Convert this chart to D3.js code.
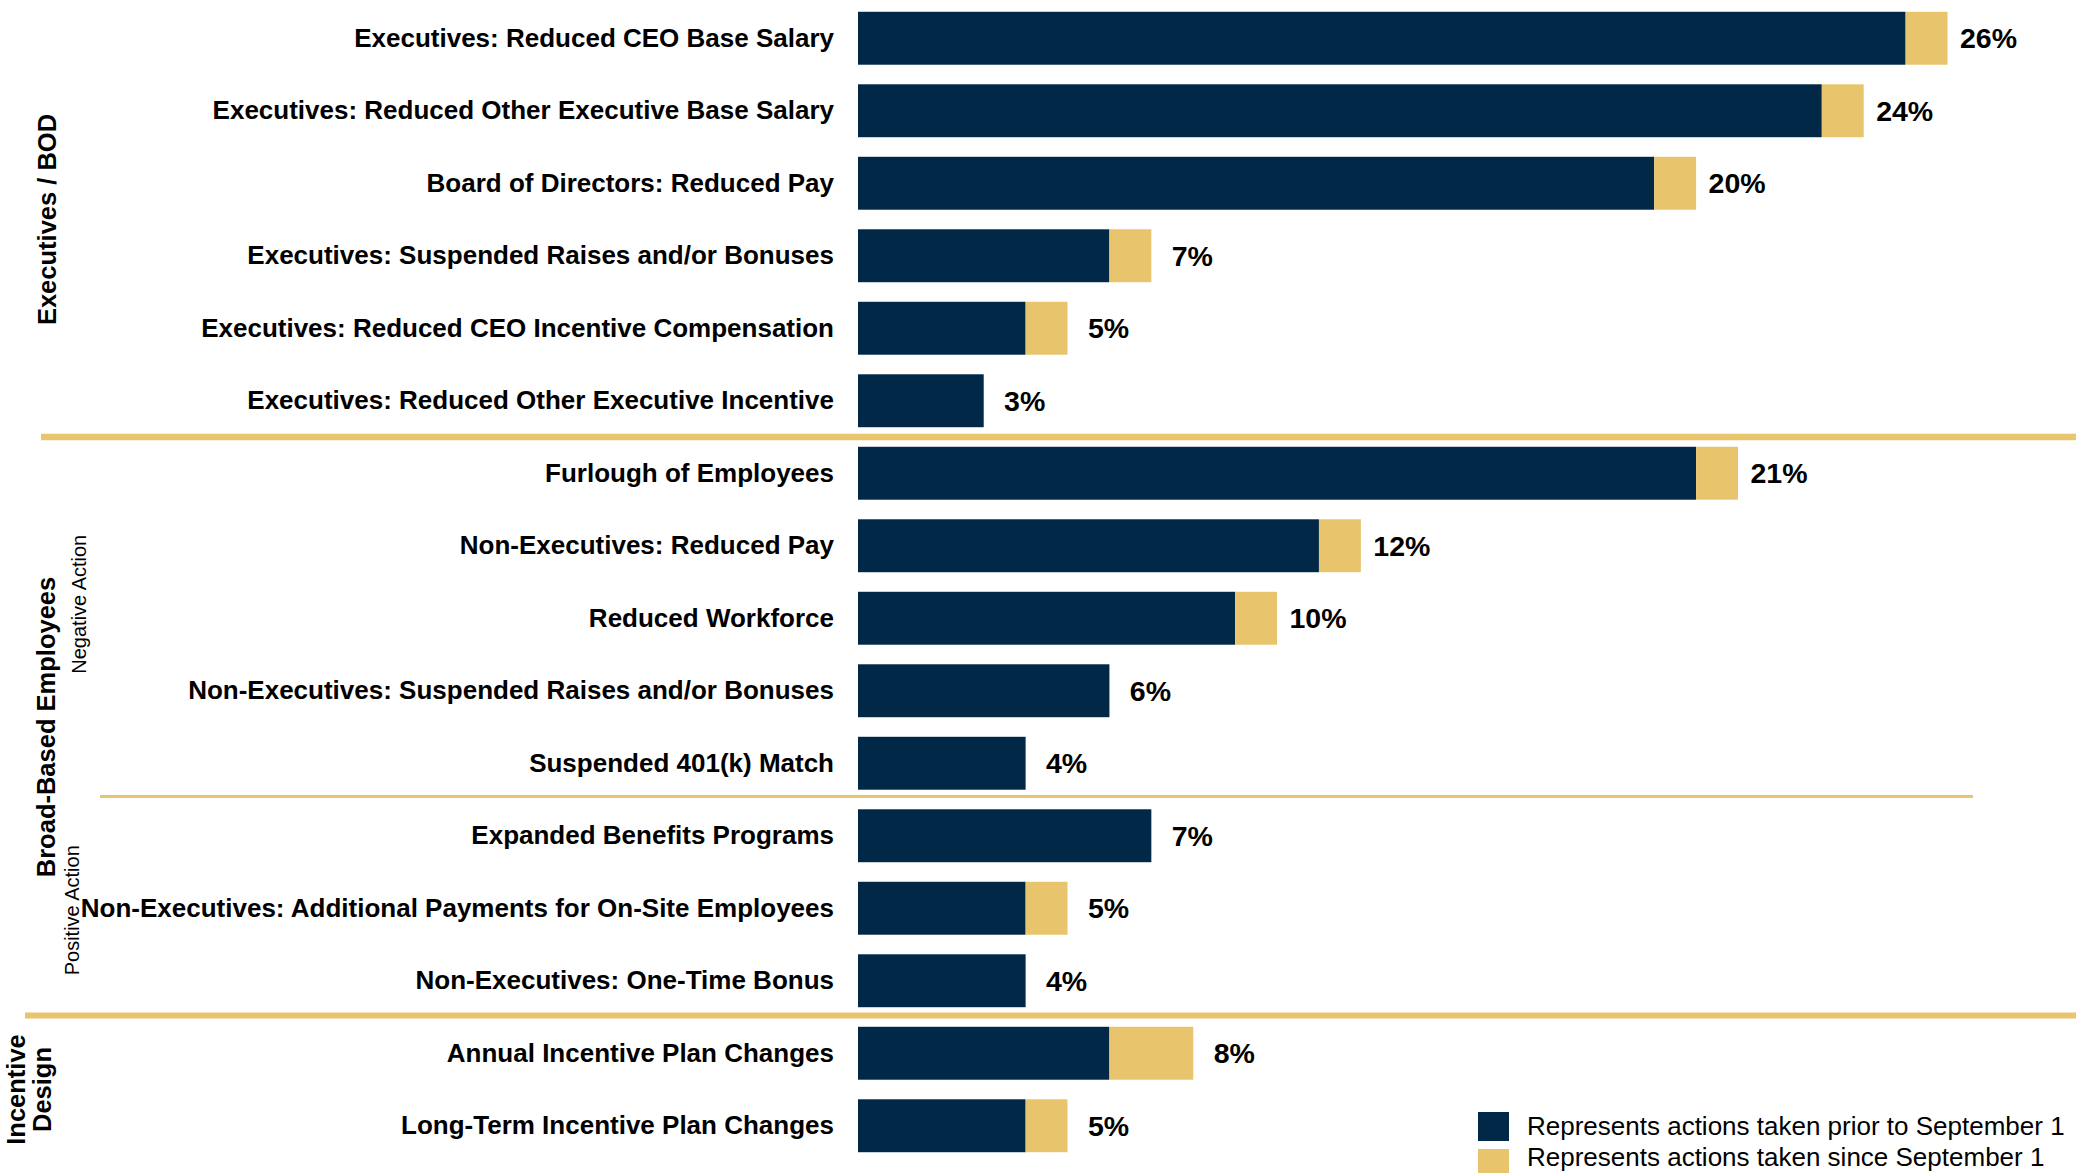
<!DOCTYPE html>
<html>
<head>
<meta charset="utf-8">
<script src="https://cdn.jsdelivr.net/npm/d3@7"></script>
<style>
  html, body { margin: 0; padding: 0; background: #fff; }
  svg { display: block; font-family: "Liberation Sans", Arial, Helvetica, sans-serif; }
</style>
</head>
<body>
<script>
// Compensation actions, share of companies (%)
const categories = [
  "Executives: Reduced CEO Base Salary",
  "Executives: Reduced Other Executive Base Salary",
  "Board of Directors: Reduced Pay",
  "Executives: Suspended Raises and/or Bonuses",
  "Executives: Reduced CEO Incentive Compensation",
  "Executives: Reduced Other Executive Incentive",
  "Furlough of Employees",
  "Non-Executives: Reduced Pay",
  "Reduced Workforce",
  "Non-Executives: Suspended Raises and/or Bonuses",
  "Suspended 401(k) Match",
  "Expanded Benefits Programs",
  "Non-Executives: Additional Payments for On-Site Employees",
  "Non-Executives: One-Time Bonus",
  "Annual Incentive Plan Changes",
  "Long-Term Incentive Plan Changes"
];
// actions taken prior to September 1
const priorValues = [25, 23, 19, 6, 4, 3, 20, 11, 9, 6, 4, 7, 4, 4, 6, 4];
// actions taken since September 1
const sinceValues = [1, 1, 1, 1, 1, 0, 1, 1, 1, 0, 0, 0, 1, 0, 2, 1];

const seriesNames = [
  "Represents actions taken prior to September 1",
  "Represents actions taken since September 1"
];

// Row groupings (first and last category index)
const groupNames = ["Executives / BOD", "Broad-Based Employees", ["Incentive", "Design"]];
const groupRows = [[0, 5], [6, 13], [14, 15]];
const subGroupNames = ["Negative Action", "Positive Action"];
const subGroupRows = [[6, 10], [11, 13]];

const W = 2076, H = 1173;
const NAVY = "#012847", GOLD = "#E8C46D";

const svg = d3.select("body").append("svg")
  .attr("width", W).attr("height", H);

const rows = categories.map((c, i) => ({
  cat: c, prior: priorValues[i], since: sinceValues[i], total: priorValues[i] + sinceValues[i]
}));

const y = d3.scaleBand()
  .domain(categories)
  .range([2, 1162])
  .paddingInner(0.27)
  .paddingOuter(0.135);

const x = d3.scaleLinear()
  .domain([0, d3.max(rows, d => d.total)])
  .range([858, 1947.5]);

const stack = d3.stack().keys(["prior", "since"])(rows);
const colors = [NAVY, GOLD];

// stacked bars
svg.append("g").selectAll("g")
  .data(stack)
  .join("g")
  .attr("fill", (d, i) => colors[i])
  .selectAll("rect")
  .data(d => d.filter(s => s[1] > s[0]))
  .join("rect")
  .attr("x", d => x(d[0]))
  .attr("y", d => y(d.data.cat))
  .attr("width", d => x(d[1]) - x(d[0]))
  .attr("height", y.bandwidth());

// category labels via a left axis
const yAxis = svg.append("g")
  .attr("transform", `translate(${x(0) - 24},0)`)
  .call(d3.axisLeft(y).tickSize(0).tickPadding(0));
yAxis.select(".domain").remove();
yAxis.selectAll("text")
  .attr("fill", "#000")
  .attr("font-size", 26)
  .attr("font-weight", "bold")
  .attr("font-family", "\"Liberation Sans\", Arial, sans-serif");

// total value labels
svg.append("g").selectAll("text")
  .data(rows)
  .join("text")
  .attr("x", d => x(d.total) + 41)
  .attr("y", d => y(d.cat) + y.bandwidth() / 2)
  .attr("dy", "0.35em")
  .attr("text-anchor", "middle")
  .attr("font-size", 28.5)
  .attr("font-weight", "bold")
  .attr("fill", "#000")
  .text(d => d.total + "%");

// separators
const gap = y.step() - y.bandwidth();
const boundary = i => y(categories[i]) - gap / 2;
const sep = svg.append("g").attr("stroke", GOLD);
sep.append("line")
  .attr("x1", 41).attr("x2", W)
  .attr("y1", boundary(groupRows[1][0])).attr("y2", boundary(groupRows[1][0]))
  .attr("stroke-width", 6.5);
sep.append("line")
  .attr("x1", 25).attr("x2", W)
  .attr("y1", boundary(groupRows[2][0]) - 1.5).attr("y2", boundary(groupRows[2][0]) - 1.5)
  .attr("stroke-width", 6);
sep.append("line")
  .attr("x1", 100).attr("x2", 1973)
  .attr("y1", boundary(subGroupRows[1][0]) - 3).attr("y2", boundary(subGroupRows[1][0]) - 3)
  .attr("stroke-width", 3);

// group labels (rotated)
const rowMid = r => (y(categories[r[0]]) + y(categories[r[1]]) + y.bandwidth()) / 2;
const groupX = [56, 55];
groupNames.forEach((g, i) => {
  const cy = rowMid(groupRows[i]);
  if (Array.isArray(g)) {
    const lineX = [25, 51];
    g.forEach((line, j) => {
      svg.append("text")
        .attr("transform", `translate(${lineX[j]},${cy}) rotate(-90)`)
        .attr("text-anchor", "middle")
        .attr("font-size", 25.5)
        .attr("font-weight", "bold")
        .text(line);
    });
  } else {
    svg.append("text")
      .attr("transform", `translate(${groupX[i]},${cy}) rotate(-90)`)
      .attr("text-anchor", "middle")
      .attr("font-size", 25.5)
      .attr("font-weight", "bold")
      .text(g);
  }
});

const subX = [86, 79];
const subShift = [-14, 2];
subGroupNames.forEach((s, i) => {
  const cy = rowMid(subGroupRows[i]) + subShift[i];
  svg.append("text")
    .attr("transform", `translate(${subX[i]},${cy}) rotate(-90)`)
    .attr("text-anchor", "middle")
    .attr("font-size", 20)
    .text(s);
});

// legend
const legend = svg.append("g").attr("transform", "translate(1478,1112)");
seriesNames.forEach((name, i) => {
  const g = legend.append("g");
  g.append("rect")
    .attr("y", i * 37)
    .attr("width", 31).attr("height", 29)
    .attr("fill", colors[i]);
  g.append("text")
    .attr("x", 49).attr("y", 14 + i * 31).attr("dy", "0.35em")
    .attr("font-size", 26)
    .attr("fill", "#000")
    .text(name);
});
</script>
</body>
</html>
